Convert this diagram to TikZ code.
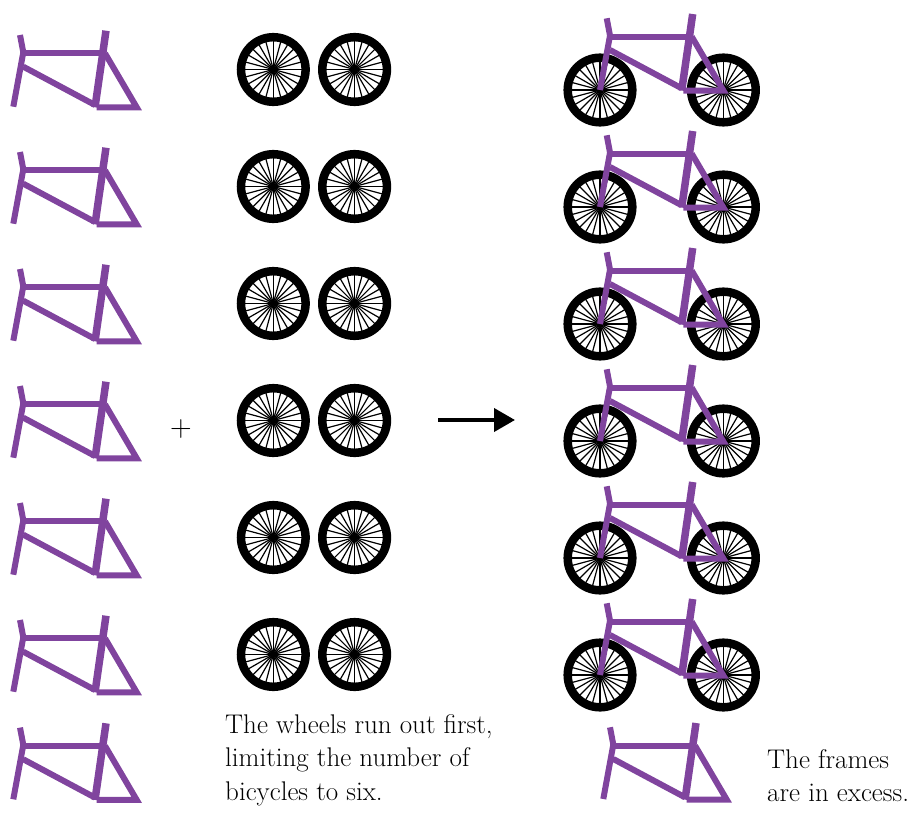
\documentclass[tikz,border=0pt]{standalone}
\usetikzlibrary{positioning,arrows.meta}
\definecolor{framepurple}{RGB}{128,68,158}

\begin{document}
\begin{tikzpicture}[x=1pt, y=-1pt, line join=miter,
    tube/.style={draw=framepurple, line width=6pt},
    seattube/.style={draw=framepurple, line width=7.5pt},
    spoke/.style={draw=black, line width=1.2pt},
    tyre/.style={draw=black, line width=8.5pt},
    note/.style={inner sep=0pt, align=left, anchor=north west,
      font=\fontsize{27}{33.5}\selectfont},
    pics/bikeframe/.style={code={%
      \draw[tube] (6.7,-71.7) -- (10,-54.4) -- (0,0);%
      \draw[tube] (10,-53.4) -- (88.4,-53.4);%
      \draw[tube] (10,-40) -- (81.7,-1.7);%
      \draw[tube] (83.4,0.6) -- (123.4,0.6) -- (91.7,-53.4);%
      \draw[seattube] (92.7,-76) -- (81.7,0.6);%
    }},
    pics/wheel/.style={code={%
      \foreach \a in {0,15,...,345} \draw[spoke] (0,0) -- (\a:29);%
      \draw[tyre] (0,0) circle (32.3);%
    }}]
    \useasboundingbox (0,0) rectangle (923,813);
    % frames, wheel pairs and finished bicycles, one row each
    \foreach \r in {0,...,5} {
      \pic at (13.3,106.7+117*\r) {bikeframe};%
      \pic at (273.3,69.5+117*\r) {wheel};%
      \pic at (354.6,69.5+117*\r) {wheel};%
      \pic at (600,90+117*\r) {wheel};%
      \pic at (723.4,90+117*\r) {wheel};%
      \pic at (600,90+117*\r) {bikeframe};%
    }
    % frames left over
    \pic at (13.3,799.3) {bikeframe};%
    \pic at (603.3,799) {bikeframe};%
    \node[font=\fontsize{30}{34}\selectfont] (plus) at (181,429) {+};%
    \coordinate (arrowtail) at (438,420);%
    \coordinate (arrowtip) at (515,420);%
    \draw[line width=4pt, -{Triangle[length=21pt,width=23pt]}] (arrowtail) -- (arrowtip);
    \node[note] (wheelnote) at (225,714) {The wheels run out first,\\limiting the number of\\bicycles to six.};%
    \node[note] (framenote) at (767,749) {The frames\\are in excess.};%
\end{tikzpicture}
\end{document}
